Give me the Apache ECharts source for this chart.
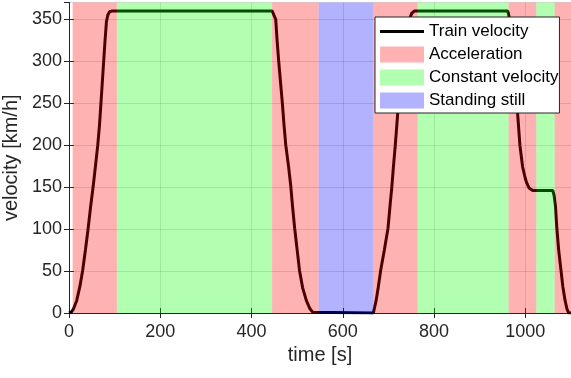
<!DOCTYPE html>
<html>
<head>
<meta charset="utf-8">
<script src="https://cdn.jsdelivr.net/npm/echarts@6/dist/echarts.min.js"></script>
<style>
html, body { margin: 0; padding: 0; background: #fff; }
#chart { width: 571px; height: 378px; }
</style>
</head>
<body>
<div id="chart"></div>
<script>
// time [s] and velocity [km/h]
var timeS = [0, 5, 10, 17, 24, 30, 36, 42, 47, 53, 58, 63, 67, 70, 73, 76, 79, 82, 85, 89, 95,
    445, 448, 453, 456, 459.5, 463.5, 467.5, 471, 475, 481, 486, 490, 494.5, 500, 505, 512, 520, 528, 534, 538,
    667, 670, 673, 678, 683, 691, 699, 703, 707.5, 711, 715, 718.5, 722, 726, 730.5, 736, 746, 751, 757,
    961, 963, 965, 972, 977, 983, 988, 994, 1000, 1003, 1008, 1016,
    1060, 1063, 1066, 1069, 1073, 1078, 1082, 1087, 1091, 1095, 1100];
var velocityKmh = [0, 1, 5, 15, 32, 51, 75, 101, 125, 151, 175, 200, 225, 250, 275, 300, 325, 347, 355, 359, 360,
    360, 358, 350, 325, 300, 275, 250, 225, 200, 175, 151, 126, 101, 75, 51, 30, 15, 5, 1, 0,
    0, 2, 15, 32, 51, 75, 101, 125, 151, 175, 200, 225, 250, 275, 300, 325, 350, 357, 360,
    360, 357, 350, 300, 270, 238, 200, 174, 160, 155, 149, 146,
    146, 140, 127, 101, 75, 51, 32, 15, 5, 0, 0];

// phase spans [start, end] in seconds
var accelSpans = [[8, 105], [445, 547], [666, 764], [963, 1024], [1064, 1100]];
var constSpans = [[105, 445], [764, 963], [1024, 1064]];
var stillSpans = [[547, 666]];

var fontFam = '"Liberation Sans", Arial, sans-serif';
var axisCol = '#262626';

var chart = echarts.init(document.getElementById('chart'));

function spansToArea(spans) {
    return spans.map(function (s) { return [{ xAxis: s[0] }, { xAxis: s[1] }]; });
}

function phaseSeries(name, color, spans) {
    return {
        name: name,
        type: 'line',
        data: [],
        symbol: 'none',
        z: 3,
        color: color,
        itemStyle: { color: color },
        markArea: {
            silent: true,
            z: 5,
            itemStyle: { color: color },
            data: spansToArea(spans)
        }
    };
}

var lineData = timeS.map(function (t, i) { return [t, velocityKmh[i]]; });

var tickStyle = { show: true, inside: true, length: 5, lineStyle: { color: axisCol } };

var option = {
    animation: false,
    textStyle: { fontFamily: fontFam },
    grid: { left: 69, right: 0, top: 2.5, bottom: 65, outerBoundsMode: 'none', containLabel: false },
    legend: {
        z: 20,
        left: 375,
        top: 17,
        orient: 'vertical',
        itemWidth: 44,
        itemHeight: 16,
        itemGap: 6,
        padding: [6, 1, 4, 5],
        backgroundColor: '#fff',
        borderColor: axisCol,
        borderWidth: 1,
        borderRadius: 0,
        itemStyle: { borderWidth: 0 },
        textStyle: { fontSize: 17, color: '#000', fontFamily: fontFam, lineHeight: 17 },
        data: [
            { name: 'Train velocity', icon: 'path://M0 0H44V3H0Z' },
            { name: 'Acceleration', icon: 'rect' },
            { name: 'Constant velocity', icon: 'rect' },
            { name: 'Standing still', icon: 'rect' }
        ]
    },
    xAxis: [{
        type: 'value',
        min: 0, max: 1100, interval: 200,
        name: 'time [s]',
        nameLocation: 'middle',
        nameGap: 30,
        nameTextStyle: { fontSize: 20, color: axisCol, fontFamily: fontFam },
        axisLine: { onZero: false, lineStyle: { color: axisCol } },
        axisTick: tickStyle,
        axisLabel: {
            fontSize: 18, color: axisCol, margin: 10, fontFamily: fontFam, showMaxLabel: false,
            formatter: function (v) { return String(v); }
        },
        splitLine: { show: true, lineStyle: { color: 'rgba(38,38,38,0.15)' } }
    }, {
        type: 'value',
        position: 'top',
        min: 0, max: 1100, interval: 200,
        axisLine: { show: true, lineStyle: { color: axisCol } },
        axisTick: tickStyle,
        axisLabel: { show: false },
        splitLine: { show: false }
    }],
    yAxis: [{
        type: 'value',
        min: 0, max: 370, interval: 50,
        name: 'velocity [km/h]',
        nameLocation: 'middle',
        nameGap: 44,
        nameTextStyle: { fontSize: 20, color: axisCol, fontFamily: fontFam },
        axisLine: { show: true, onZero: false, lineStyle: { color: axisCol } },
        axisTick: tickStyle,
        axisLabel: { fontSize: 18, color: axisCol, margin: 7, fontFamily: fontFam, showMaxLabel: false },
        splitLine: { show: true, lineStyle: { color: 'rgba(38,38,38,0.15)' } }
    }, {
        type: 'value',
        position: 'right',
        min: 0, max: 370, interval: 50,
        axisLine: { show: true, lineStyle: { color: axisCol } },
        axisTick: tickStyle,
        axisLabel: { show: false },
        splitLine: { show: false }
    }],
    series: [
        {
            name: 'Train velocity',
            type: 'line',
            z: 2,
            data: lineData,
            symbol: 'none',
            color: '#000',
            lineStyle: { color: '#000', width: 3 }
        },
        phaseSeries('Acceleration', 'rgba(255,0,0,0.3)', accelSpans),
        phaseSeries('Constant velocity', 'rgba(0,255,0,0.3)', constSpans),
        phaseSeries('Standing still', 'rgba(0,0,255,0.3)', stillSpans)
    ]
};

chart.setOption(option);
</script>
</body>
</html>
